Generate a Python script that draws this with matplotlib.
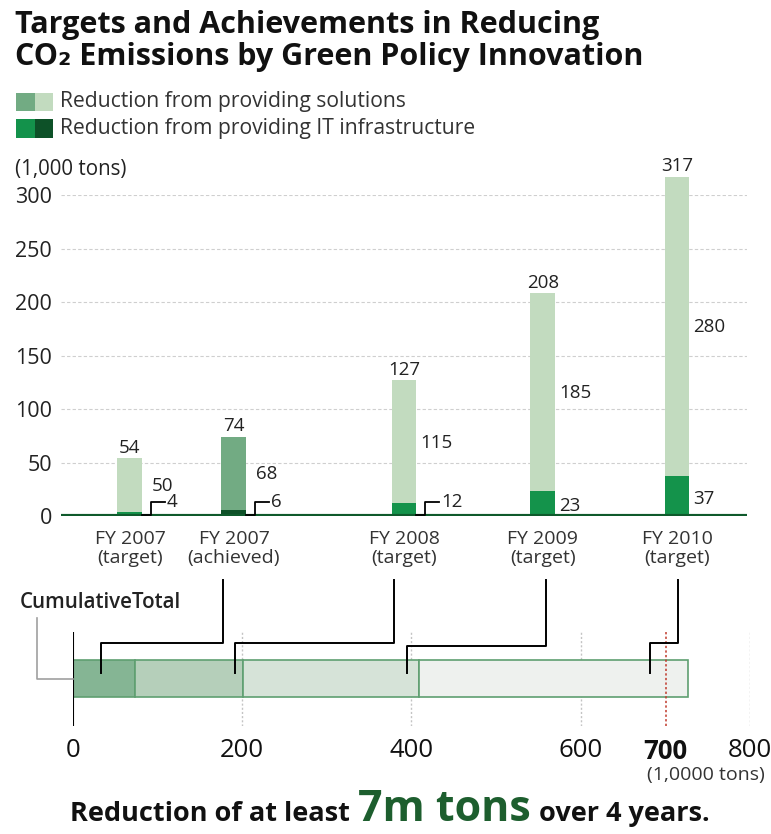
import matplotlib
matplotlib.use("Agg")
import matplotlib.pyplot as plt
from matplotlib.patches import Rectangle
from matplotlib.lines import Line2D
import numpy as np

# ---------------- data ----------------
categories = ["FY 2007\n(target)", "FY 2007\n(achieved)", "FY 2008\n(target)",
              "FY 2009\n(target)", "FY 2010\n(target)"]
it_infra = [4, 6, 12, 23, 37]          # reduction from providing IT infrastructure
solutions = [50, 68, 115, 185, 280]    # reduction from providing solutions
totals = [54, 74, 127, 208, 317]
y_ticks = [0, 50, 100, 150, 200, 250, 300]

cumulative_parts = [74, 127, 208, 317]  # FY2007 achieved, FY2008-2010 targets
cum_ticks = [0, 200, 400, 600, 700, 800]
goal = 700

# ---------------- layout / style ----------------
W, H = 771, 834
plt.rcParams["font.family"] = ["Open Sans", "DejaVu Sans"]
TXT = "#222222"

x_pos = [0.0, 1.0, 2.635, 3.97, 5.26]
bar_w = 0.24
sol_colors = ["#c2dbbf", "#72ab83", "#c2dbbf", "#c2dbbf", "#c2dbbf"]
it_colors = ["#14934b", "#0e5128", "#14934b", "#14934b", "#14934b"]
cum_colors = ["#85b594", "#b5cfba", "#d6e3d8", "#eef1ee"]


def fx(x):
    return x / W


def fy(y):
    return 1 - y / H


fig = plt.figure(figsize=(W / 100, H / 100), dpi=100)

# title
fig.text(fx(15), fy(33), "Targets and Achievements in Reducing", fontsize=22,
         weight="bold", color="#111111", va="baseline")
fig.text(fx(15), fy(65), "CO\u2082 Emissions by Green Policy Innovation", fontsize=22,
         weight="bold", color="#111111", va="baseline")

# legend swatches
legend_rows = [("Reduction from providing solutions", "#72ab83", "#c2dbbf", 93, 111),
               ("Reduction from providing IT infrastructure", "#13924b", "#0d5128", 119, 138)]
for label, c_left, c_right, y0, y1 in legend_rows:
    fig.add_artist(Rectangle((fx(16), fy(y1)), fx(19), (y1 - y0) / H,
                             transform=fig.transFigure, color=c_left, lw=0))
    fig.add_artist(Rectangle((fx(35), fy(y1)), fx(18), (y1 - y0) / H,
                             transform=fig.transFigure, color=c_right, lw=0))
    fig.text(fx(60), fy((y0 + y1) / 2), label, fontsize=15.2, color="#333333", va="center")

fig.text(fx(15), fy(169), "(1,000 tons)", fontsize=14.8, color=TXT, va="center")

# ---------------- main stacked bar chart ----------------
ax = fig.add_axes([fx(61), fy(516), fx(686), 321 / H])
ax.set_xlim(-0.663, 5.933)
ax.set_ylim(0, 300)
for s in ax.spines.values():
    s.set_visible(False)
ax.set_yticks(y_ticks)
ax.tick_params(axis="y", length=0, pad=6.5, labelsize=15.5, labelcolor=TXT)
ax.set_xticks(x_pos, categories)
ax.tick_params(axis="x", length=0, pad=10, labelsize=14, labelcolor="#333333")
for lbl in ax.get_xticklabels():
    lbl.set_linespacing(1.1)

for t in y_ticks[1:]:
    ax.axhline(t, color="#cfcfcf", lw=0.8, ls=(0, (3, 2)), zorder=0)
ax.axhline(0, color="#0f5a2c", lw=3, zorder=5)

ax.bar(x_pos, it_infra, bar_w, color=it_colors, zorder=3, clip_on=False)
ax.bar(x_pos, solutions, bar_w, bottom=it_infra, color=sol_colors, zorder=3, clip_on=False)

for x, it, sol, tot in zip(x_pos, it_infra, solutions, totals):
    ax.text(x, tot + 5, str(tot), ha="center", va="baseline", fontsize=13.5,
            color=TXT, clip_on=False)
    ax.text(x + 0.31, it + sol / 2 - 5.5, str(sol), ha="center", va="baseline",
            fontsize=13.5, color=TXT)
    right = x + bar_w / 2
    if it < 15:
        ax.add_line(Line2D([right, right + 0.08, right + 0.08, right + 0.22],
                           [1.2, 1.2, 13, 13], color="black", lw=1.3, zorder=6))
        ax.text(right + 0.235, 13, str(it), ha="left", va="center", fontsize=13.5, color=TXT)
    else:
        ax.text(right + 0.04, it / 2 - 7, str(it), ha="left", va="baseline",
                fontsize=13.5, color=TXT)

# ---------------- cumulative total bar ----------------
ax2 = fig.add_axes([fx(72.7), fy(726), fx(677.6), 94 / H])
ax2.set_xlim(0, 800)
ax2.set_ylim(0, 1)
for s in ax2.spines.values():
    s.set_visible(False)
ax2.set_yticks([])
ax2.set_xticks(cum_ticks, [str(t) for t in cum_ticks])
ax2.tick_params(axis="x", length=0, pad=8.5, labelsize=18.5, labelcolor="#111111")
for lbl in ax2.get_xticklabels():
    if lbl.get_text() == str(goal):
        lbl.set_fontweight("bold")

lefts = np.concatenate([[0], np.cumsum(cumulative_parts)[:-1]])
ax2.barh(0.505, cumulative_parts, left=lefts, height=0.393, color=cum_colors,
         edgecolor="#5f9f71", lw=1.2, zorder=2)
for t in [200, 400, 600, 800]:
    ax2.axvline(t, color="#c4c4c4", lw=1, ls=(0, (1.5, 1.5)), zorder=0)
ax2.axvline(goal, color="#c0392b", lw=1.1, ls=(0, (1.5, 1.5)), zorder=4)
ax2.axvline(0, color="black", lw=1.5, zorder=5)

fig.text(fx(706), fy(775), "(1,0000 tons)", fontsize=14, color="#333333",
         ha="center", va="center")

# "CumulativeTotal" label and its leader
fig.text(fx(20), fy(603), "CumulativeTotal", fontsize=14.8, color="#222222", va="center",
         weight="semibold")
fig.add_artist(Line2D([fx(37), fx(37), fx(72.7)], [fy(618), fy(679), fy(679)],
                      transform=fig.transFigure, color="#a0a0a0", lw=1.2))

# connectors from each period label down to its share of the cumulative bar
inv = fig.transFigure.inverted()
src_offsets = [-0.109, -0.096, 0.026, 0.007]
targets = [34, 192, 395, 682]
mid_rows = [643, 643, 646, 643]
for i, (off, tgt, ym) in enumerate(zip(src_offsets, targets, mid_rows)):
    xs = inv.transform(ax.transData.transform((x_pos[i + 1] + off, 0)))[0]
    xt = inv.transform(ax2.transData.transform((tgt, 0)))[0]
    fig.add_artist(Line2D([xs, xs, xt, xt], [fy(580), fy(ym), fy(ym), fy(673)],
                          transform=fig.transFigure, color="black", lw=1.4, zorder=10))

# ---------------- headline ----------------
renderer = fig.canvas.get_renderer()
parts = [("Reduction of at least", 19.5, "#111111"),
         ("7m tons", 31, "#1d5e2e"),
         ("over 4 years.", 19.5, "#111111")]
gap = 8
texts = []
for s, size, col in parts:
    texts.append(fig.text(0, fy(821), s, fontsize=size, weight="bold", color=col,
                          va="baseline", ha="left"))
widths = [t.get_window_extent(renderer).width for t in texts]
total_w = sum(widths) + gap * (len(widths) - 1)
x = 390 - total_w / 2
for t, w in zip(texts, widths):
    t.set_x(fx(x))
    x += w + gap

fig.savefig("out.png", dpi=100)
